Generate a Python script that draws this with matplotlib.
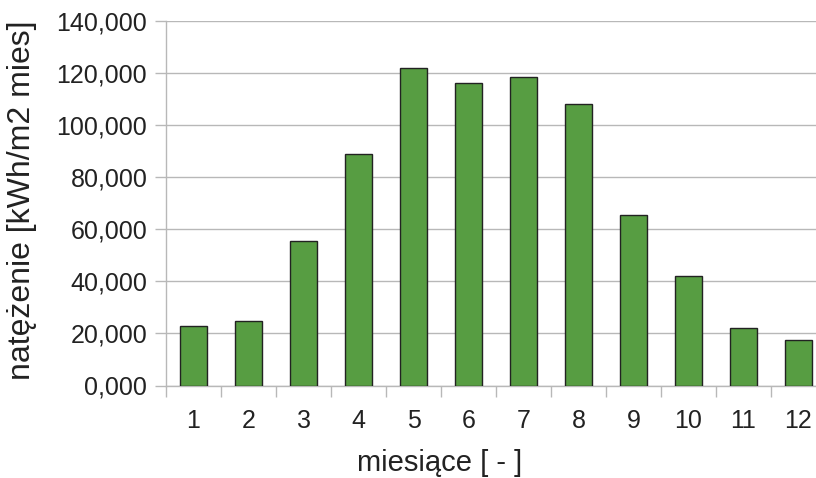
import numpy as np
import matplotlib.pyplot as plt
from matplotlib.ticker import FuncFormatter, FixedLocator

plt.rcParams['font.family'] = ['Liberation Sans', 'DejaVu Sans']

months = [1, 2, 3, 4, 5, 6, 7, 8, 9, 10, 11, 12]
values = [22.9, 24.9, 55.6, 89.0, 121.8, 116.1, 118.4, 108.2, 65.5, 41.9, 22.0, 17.6]  # kWh/m2 mies
yticks = [0, 20, 40, 60, 80, 100, 120, 140]

fig = plt.figure(figsize=(8.16, 4.78), dpi=100)
ax = fig.add_axes([166 / 816, 92.5 / 478, 660 / 816, 364.5 / 478])

ax.bar(months, values, width=0.5, color='#579d42', edgecolor='#222222',
       linewidth=1.0, zorder=3)

ax.set_xlim(0.5, 12.5)
ax.set_ylim(0, 140)
ax.set_yticks(yticks)
ax.yaxis.set_major_formatter(FuncFormatter(lambda v, p: f"{v:.3f}".replace('.', ',')))
ax.set_xticks(months)
ax.xaxis.set_minor_locator(FixedLocator(np.arange(0.5, 13, 1)))

ax.grid(axis='y', color='#b8b8b8', linewidth=1.0, zorder=0)
for s in ['top', 'right']:
    ax.spines[s].set_visible(False)
for s in ['left', 'bottom']:
    ax.spines[s].set_color('#b8b8b8')
    ax.spines[s].set_linewidth(1.0)

ax.tick_params(axis='y', length=8, width=1, color='#b8b8b8', pad=5.5,
               labelsize=18, labelcolor='#222222')
ax.tick_params(axis='x', which='major', length=0, pad=17,
               labelsize=18, labelcolor='#222222')
ax.tick_params(axis='x', which='minor', length=8, width=1, color='#b8b8b8')

ax.set_xlabel('miesiące [ - ]', fontsize=21, color='#222222')
ax.xaxis.set_label_coords((440 - 166) / 660, -(463 - 385.5) / 364.5)
ax.xaxis.label.set_va('center')
ax.set_ylabel('natężenie [kWh/m2 mies]', fontsize=23, color='#222222')
ax.yaxis.set_label_coords(-(166 - 22) / 660, (385.5 - 200) / 364.5)
ax.yaxis.label.set_va('center')

fig.savefig('out.png', dpi=100)
